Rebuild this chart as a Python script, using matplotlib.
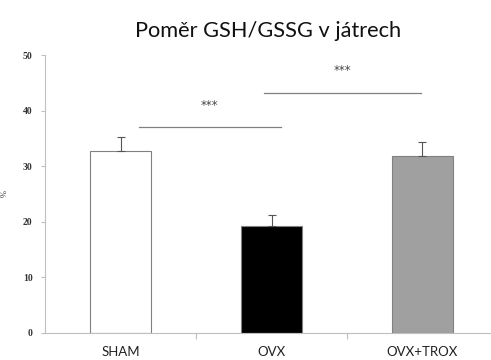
import matplotlib
matplotlib.use("Agg")
import matplotlib.pyplot as plt

categories = ["SHAM", "OVX", "OVX+TROX"]
values = [32.7, 19.2, 31.8]
errors = [2.6, 2.0, 2.6]
colors = ["white", "black", "#a0a0a0"]
yticks = [0, 10, 20, 30, 40, 50]
sig_pairs = [(0.12, 1.06, 37.0, "***"), (0.95, 1.99, 43.2, "***")]

fig = plt.figure(figsize=(4.91, 3.6), dpi=100)
ax = fig.add_axes([0.092, 0.075, 0.908, 0.772])
x = list(range(len(categories)))
ax.bar(x, values, width=0.40, color=colors, edgecolor="#808080", linewidth=0.8, zorder=2)
ax.errorbar(x, values, yerr=[[0]*3, errors], fmt="none", ecolor="#555555",
            elinewidth=0.8, capsize=3, capthick=0.8, zorder=3)

for x0, x1, y, txt in sig_pairs:
    ax.plot([x0, x1], [y, y], color="#808080", lw=0.9)
    ax.text((x0 + x1) / 2, y + 4.0, txt, ha="center", va="center",
            fontsize=8.5, color="#444444", family="DejaVu Sans")

ax.set_xlim(-0.5, 2.454)
ax.set_ylim(0, 50)
ax.set_yticks(yticks)
ax.set_yticklabels([str(t) for t in yticks], fontsize=7, family="Liberation Serif",
                   color="#333333", fontweight="bold")
ax.set_xticks([0.5, 1.5])
ax.set_xticklabels([])
ax.tick_params(axis="x", length=4, color="#bfbfbf", direction="out")
ax.tick_params(axis="y", length=3, color="#bfbfbf", pad=6)
for i, c in enumerate(categories):
    ax.text(i, -2.3, c, ha="center", va="top", fontsize=9.5, family="Lato", color="#222222")
for s in ["top", "right"]:
    ax.spines[s].set_visible(False)
ax.spines["left"].set_color("#bfbfbf")
ax.spines["bottom"].set_color("#bfbfbf")
ax.set_ylabel("%", fontsize=6, family="Liberation Serif", labelpad=10, color="#333333")
fig.text(0.545, 0.915, "Poměr GSH/GSSG v játrech", ha="center", va="center",
         fontsize=15.7, family="Lato", color="#111111")
fig.savefig("out.png", dpi=100)
